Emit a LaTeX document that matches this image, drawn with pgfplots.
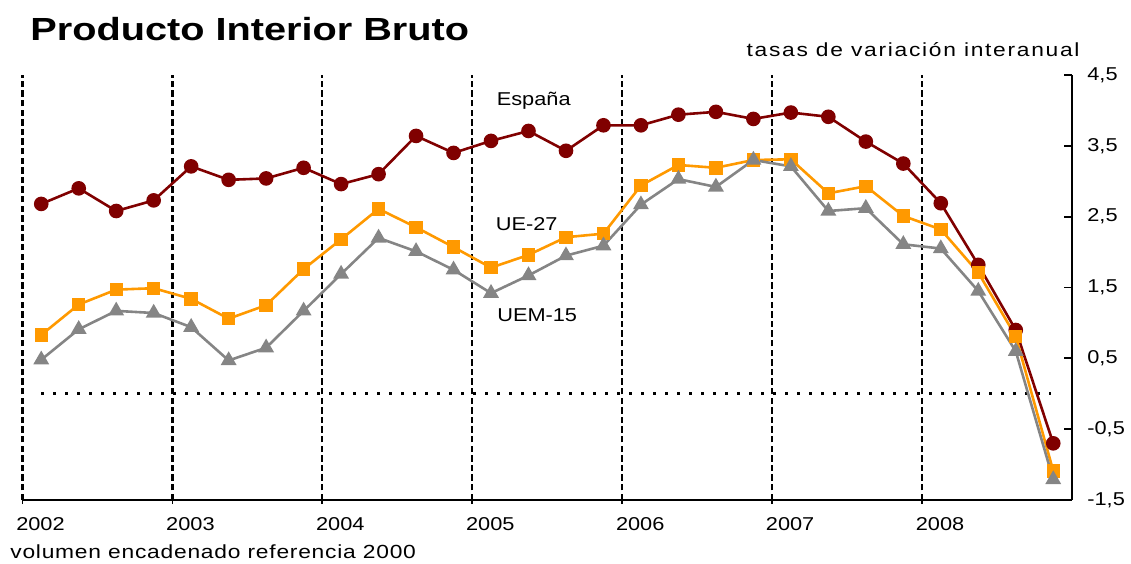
\documentclass[border=0pt]{standalone}
\usepackage{pgfplots}
\pgfplotsset{compat=1.18}
\usepackage{fontspec}
\setmainfont{Liberation Sans}[FakeStretch=1.17]
\newfontfamily\titlefont{Liberation Sans}[FakeStretch=1.24]
\newfontfamily\topfont{Liberation Sans}[FakeStretch=1.2, LetterSpace=9]
\newfontfamily\botfont{Liberation Sans}[FakeStretch=1.2, LetterSpace=4]
\definecolor{espana}{HTML}{800000}
\definecolor{ue}{HTML}{FF9900}
\definecolor{uem}{HTML}{858585}

\pgfplotstableread{
x esp ue uem
2002.125 2.68 0.83 0.48
2002.375 2.90 1.26 0.91
2002.625 2.58 1.47 1.17
2002.875 2.73 1.49 1.14
2003.125 3.21 1.34 0.94
2003.375 3.02 1.06 0.47
2003.625 3.04 1.25 0.65
2003.875 3.19 1.76 1.17
2004.125 2.96 2.18 1.69
2004.375 3.10 2.61 2.20
2004.625 3.64 2.35 2.01
2004.875 3.40 2.07 1.75
2005.125 3.57 1.78 1.42
2005.375 3.71 1.96 1.67
2005.625 3.43 2.21 1.95
2005.875 3.79 2.26 2.09
2006.125 3.79 2.94 2.67
2006.375 3.94 3.23 3.03
2006.625 3.98 3.19 2.92
2006.875 3.88 3.30 3.30
2007.125 3.97 3.31 3.21
2007.375 3.91 2.83 2.58
2007.625 3.56 2.93 2.62
2007.875 3.25 2.51 2.11
2008.125 2.69 2.32 2.05
2008.375 1.82 1.71 1.45
2008.625 0.90 0.81 0.60
2008.875 -0.70 -1.09 -1.21
}\gdpdata

\begin{document}
\begin{tikzpicture}[font=\fontsize{9.3}{11}\selectfont]
\useasboundingbox (0,0) rectangle (565.5pt,281.5pt);
\begin{axis}[
  at={(11.25pt,31.5pt)}, anchor=south west,
  scale only axis, width=524.75pt, height=212.5pt,
  xmin=2002, xmax=2009, ymin=-1.5, ymax=4.5,
  axis x line*=bottom, axis y line*=right,
  axis line style={line width=0.9pt},
  xtick={2002,2003,2004,2005,2006,2007,2008},
  xticklabels={2002,2003,2004,2005,2006,2007,2008},
  ytick={-1.5,-0.5,0.5,1.5,2.5,3.5,4.5},
  tick align=inside,
  major tick length=4pt,
  xtick style={line width=0.9pt, black, yshift=-2pt},
  ytick style={line width=0.9pt, black},
  xticklabel style={anchor=north, inner sep=0pt, xshift=9pt, yshift=-8.5pt},
  yticklabel style={anchor=west, inner sep=0pt, xshift=7.5pt,
    /pgf/number format/.cd, use comma, fixed, fixed zerofill, precision=1, assume math mode=true},
  xmajorgrids,
  major grid style={black, line width=1.1pt, dash pattern=on 3.2pt off 1.6pt},
  clip=false,
]
\addplot[black, line width=1.6pt, dash pattern=on 1.6pt off 4.4pt, forget plot] coordinates {(2002.125,0) (2008.86,0)};
\addplot[espana, line width=1.3pt, mark=*, mark size=3pt, mark options={solid, fill=espana}] table[x=x, y=esp] {\gdpdata};
\addplot[ue, line width=1.3pt, mark=square*, mark size=2.7pt, mark options={solid, fill=ue}] table[x=x, y=ue] {\gdpdata};
\addplot[uem, line width=1.3pt, mark=triangle*, mark size=3.3pt, mark options={solid, fill=uem}] table[x=x, y=uem] {\gdpdata};
\node[font=\fontsize{9.3}{11}\selectfont, inner sep=0pt] at (axis cs:2005.41,4.14) {España};
\node[font=\fontsize{9.3}{11}\selectfont, inner sep=0pt] at (axis cs:2005.363,2.40) {UE-27};
\node[font=\fontsize{9.3}{11}\selectfont, inner sep=0pt] at (axis cs:2005.433,1.11) {UEM-15};
\end{axis}
\node[anchor=base west, inner sep=0pt, font=\titlefont\bfseries\fontsize{16}{19}\selectfont] at (15pt,261pt) {Producto Interior Bruto};
\node[anchor=base east, inner sep=0pt, font=\topfont\fontsize{9.5}{11}\selectfont] at (540pt,253.2pt) {tasas de variación interanual};
\node[anchor=base west, inner sep=0pt, font=\botfont\fontsize{9.5}{11}\selectfont] at (5pt,2.5pt) {volumen encadenado referencia 2000};
\end{tikzpicture}
\end{document}
